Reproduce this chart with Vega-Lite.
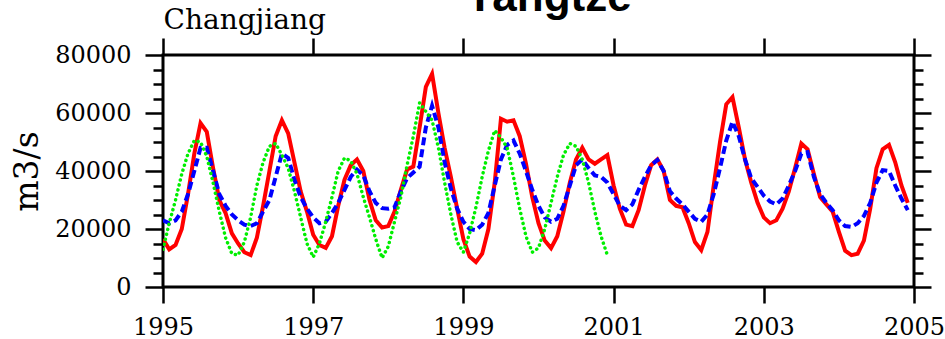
{
  "$schema": "https://vega.github.io/schema/vega-lite/v6.json",
  "width": 751,
  "height": 232,
  "autosize": {"type": "none"},
  "padding": {"left": 163, "top": 55, "right": 31, "bottom": 52},
  "background": "white",
  "title": {"text": "Yangtze", "font": "Liberation Sans", "fontWeight": "bold", "fontSize": 44, "color": "black", "anchor": "middle", "baseline": "alphabetic", "offset": 0, "dy": 48, "dx": 10},
  "config": {
    "view": {"stroke": "black", "strokeWidth": 3},
    "axis": {"domain": false, "grid": false, "tickColor": "black", "tickWidth": 2.5, "labelColor": "black", "labelFont": "DejaVu Serif", "labelFontSize": 24, "titleColor": "black", "titleFont": "DejaVu Serif", "titleFontWeight": "normal"}
  },
  "datasets": {
    "red": [
      {"t":1995.000,"v":16500},{"t":1995.083,"v":13000},{"t":1995.167,"v":14500},{"t":1995.250,"v":20000},{"t":1995.333,"v":32000},{"t":1995.417,"v":46000},{"t":1995.500,"v":56500},{"t":1995.583,"v":53500},{"t":1995.667,"v":41000},{"t":1995.750,"v":30000},{"t":1995.833,"v":25500},{"t":1995.917,"v":18500},
      {"t":1996.000,"v":15000},{"t":1996.083,"v":12000},{"t":1996.167,"v":11000},{"t":1996.250,"v":17000},{"t":1996.333,"v":28000},{"t":1996.417,"v":40000},{"t":1996.500,"v":52000},{"t":1996.583,"v":57500},{"t":1996.667,"v":53000},{"t":1996.750,"v":43000},{"t":1996.833,"v":33000},{"t":1996.917,"v":26000},
      {"t":1997.000,"v":18000},{"t":1997.083,"v":14500},{"t":1997.167,"v":13500},{"t":1997.250,"v":17500},{"t":1997.333,"v":28000},{"t":1997.417,"v":37000},{"t":1997.500,"v":42000},{"t":1997.583,"v":44000},{"t":1997.667,"v":40000},{"t":1997.750,"v":30000},{"t":1997.833,"v":23000},{"t":1997.917,"v":20500},
      {"t":1998.000,"v":21000},{"t":1998.083,"v":26000},{"t":1998.167,"v":33500},{"t":1998.250,"v":40500},{"t":1998.333,"v":41500},{"t":1998.417,"v":55000},{"t":1998.500,"v":69000},{"t":1998.583,"v":73500},{"t":1998.667,"v":60000},{"t":1998.750,"v":48000},{"t":1998.833,"v":38000},{"t":1998.917,"v":27000},
      {"t":1999.000,"v":16500},{"t":1999.083,"v":10500},{"t":1999.167,"v":8600},{"t":1999.250,"v":11500},{"t":1999.333,"v":20000},{"t":1999.417,"v":36000},{"t":1999.500,"v":58000},{"t":1999.583,"v":57000},{"t":1999.667,"v":57500},{"t":1999.750,"v":52000},{"t":1999.833,"v":42500},{"t":1999.917,"v":31000},
      {"t":2000.000,"v":22000},{"t":2000.083,"v":16000},{"t":2000.167,"v":13400},{"t":2000.250,"v":17500},{"t":2000.333,"v":26000},{"t":2000.417,"v":36000},{"t":2000.500,"v":44000},{"t":2000.583,"v":48000},{"t":2000.667,"v":44000},{"t":2000.750,"v":42500},{"t":2000.833,"v":44000},{"t":2000.917,"v":45500},
      {"t":2001.000,"v":35000},{"t":2001.083,"v":27000},{"t":2001.167,"v":21500},{"t":2001.250,"v":21000},{"t":2001.333,"v":26500},{"t":2001.417,"v":35000},{"t":2001.500,"v":42000},{"t":2001.583,"v":44000},{"t":2001.667,"v":40000},{"t":2001.750,"v":30000},{"t":2001.833,"v":28000},{"t":2001.917,"v":27500},
      {"t":2002.000,"v":22000},{"t":2002.083,"v":15500},{"t":2002.167,"v":12750},{"t":2002.250,"v":19000},{"t":2002.333,"v":35000},{"t":2002.417,"v":50000},{"t":2002.500,"v":63000},{"t":2002.583,"v":65500},{"t":2002.667,"v":55000},{"t":2002.750,"v":44000},{"t":2002.833,"v":36000},{"t":2002.917,"v":29000},
      {"t":2003.000,"v":24000},{"t":2003.083,"v":22000},{"t":2003.167,"v":23000},{"t":2003.250,"v":27000},{"t":2003.333,"v":33000},{"t":2003.417,"v":41000},{"t":2003.500,"v":49500},{"t":2003.583,"v":47500},{"t":2003.667,"v":39000},{"t":2003.750,"v":31000},{"t":2003.833,"v":28500},{"t":2003.917,"v":26000},
      {"t":2004.000,"v":19000},{"t":2004.083,"v":12500},{"t":2004.167,"v":11000},{"t":2004.250,"v":11500},{"t":2004.333,"v":16000},{"t":2004.417,"v":27000},{"t":2004.500,"v":41000},{"t":2004.583,"v":47500},{"t":2004.667,"v":49000},{"t":2004.750,"v":43000},{"t":2004.833,"v":35000},{"t":2004.917,"v":29000}
    ],
    "blue": [
      {"t":1995.000,"v":23000},{"t":1995.083,"v":22000},{"t":1995.167,"v":23000},{"t":1995.250,"v":26000},{"t":1995.333,"v":32000},{"t":1995.417,"v":40000},{"t":1995.500,"v":48000},{"t":1995.583,"v":48000},{"t":1995.667,"v":40000},{"t":1995.750,"v":32000},{"t":1995.833,"v":28000},{"t":1995.917,"v":25000},
      {"t":1996.000,"v":23000},{"t":1996.083,"v":21500},{"t":1996.167,"v":21000},{"t":1996.250,"v":22000},{"t":1996.333,"v":26000},{"t":1996.417,"v":30000},{"t":1996.500,"v":38000},{"t":1996.583,"v":46000},{"t":1996.667,"v":44500},{"t":1996.750,"v":37000},{"t":1996.833,"v":31000},{"t":1996.917,"v":27000},
      {"t":1997.000,"v":24000},{"t":1997.083,"v":22000},{"t":1997.167,"v":22500},{"t":1997.250,"v":25500},{"t":1997.333,"v":29000},{"t":1997.417,"v":33500},{"t":1997.500,"v":38000},{"t":1997.583,"v":40500},{"t":1997.667,"v":38500},{"t":1997.750,"v":33000},{"t":1997.833,"v":29000},{"t":1997.917,"v":27200},
      {"t":1998.000,"v":27000},{"t":1998.083,"v":27500},{"t":1998.167,"v":33000},{"t":1998.250,"v":37500},{"t":1998.333,"v":39500},{"t":1998.417,"v":41500},{"t":1998.500,"v":55000},{"t":1998.583,"v":62500},{"t":1998.667,"v":55000},{"t":1998.750,"v":43000},{"t":1998.833,"v":34000},{"t":1998.917,"v":27000},
      {"t":1999.000,"v":22500},{"t":1999.083,"v":20000},{"t":1999.167,"v":19600},{"t":1999.250,"v":21500},{"t":1999.333,"v":25500},{"t":1999.417,"v":35000},{"t":1999.500,"v":44000},{"t":1999.583,"v":49000},{"t":1999.667,"v":50500},{"t":1999.750,"v":46000},{"t":1999.833,"v":40000},{"t":1999.917,"v":33500},
      {"t":2000.000,"v":28000},{"t":2000.083,"v":24000},{"t":2000.167,"v":22500},{"t":2000.250,"v":23500},{"t":2000.333,"v":28000},{"t":2000.417,"v":35000},{"t":2000.500,"v":42000},{"t":2000.583,"v":44000},{"t":2000.667,"v":41000},{"t":2000.750,"v":38500},{"t":2000.833,"v":38000},{"t":2000.917,"v":36000},
      {"t":2001.000,"v":32000},{"t":2001.083,"v":28000},{"t":2001.167,"v":26500},{"t":2001.250,"v":28500},{"t":2001.333,"v":33500},{"t":2001.417,"v":38000},{"t":2001.500,"v":42000},{"t":2001.583,"v":43800},{"t":2001.667,"v":40000},{"t":2001.750,"v":33000},{"t":2001.833,"v":30500},{"t":2001.917,"v":28500},
      {"t":2002.000,"v":26000},{"t":2002.083,"v":23500},{"t":2002.167,"v":22500},{"t":2002.250,"v":25000},{"t":2002.333,"v":32000},{"t":2002.417,"v":41000},{"t":2002.500,"v":50500},{"t":2002.583,"v":57000},{"t":2002.667,"v":52000},{"t":2002.750,"v":44000},{"t":2002.833,"v":37500},{"t":2002.917,"v":34500},
      {"t":2003.000,"v":31500},{"t":2003.083,"v":29500},{"t":2003.167,"v":28500},{"t":2003.250,"v":30500},{"t":2003.333,"v":35000},{"t":2003.417,"v":40000},{"t":2003.500,"v":46000},{"t":2003.583,"v":46500},{"t":2003.667,"v":38000},{"t":2003.750,"v":32000},{"t":2003.833,"v":29000},{"t":2003.917,"v":26500},
      {"t":2004.000,"v":23000},{"t":2004.083,"v":21000},{"t":2004.167,"v":20700},{"t":2004.250,"v":22000},{"t":2004.333,"v":24500},{"t":2004.417,"v":29000},{"t":2004.500,"v":36000},{"t":2004.583,"v":40300},{"t":2004.667,"v":40000},{"t":2004.750,"v":35000},{"t":2004.833,"v":30500},{"t":2004.917,"v":26500}
    ],
    "green": [
      {"t":1995.000,"v":13000},{"t":1995.083,"v":22000},{"t":1995.167,"v":30000},{"t":1995.250,"v":39000},{"t":1995.333,"v":46000},{"t":1995.417,"v":50500},{"t":1995.500,"v":50000},{"t":1995.583,"v":45000},{"t":1995.667,"v":36000},{"t":1995.750,"v":26000},{"t":1995.833,"v":17000},{"t":1995.917,"v":11500},
      {"t":1996.000,"v":11000},{"t":1996.083,"v":15500},{"t":1996.167,"v":24000},{"t":1996.250,"v":35000},{"t":1996.333,"v":43000},{"t":1996.417,"v":48500},{"t":1996.500,"v":49500},{"t":1996.583,"v":45500},{"t":1996.667,"v":41000},{"t":1996.750,"v":33000},{"t":1996.833,"v":24000},{"t":1996.917,"v":15000},
      {"t":1997.000,"v":10300},{"t":1997.083,"v":15000},{"t":1997.167,"v":22500},{"t":1997.250,"v":31000},{"t":1997.333,"v":40000},{"t":1997.417,"v":44500},{"t":1997.500,"v":43500},{"t":1997.583,"v":39000},{"t":1997.667,"v":31000},{"t":1997.750,"v":24000},{"t":1997.833,"v":16500},{"t":1997.917,"v":10000},
      {"t":1998.000,"v":14000},{"t":1998.083,"v":22500},{"t":1998.167,"v":31000},{"t":1998.250,"v":42000},{"t":1998.333,"v":52000},{"t":1998.417,"v":63500},{"t":1998.500,"v":60500},{"t":1998.583,"v":57500},{"t":1998.667,"v":48000},{"t":1998.750,"v":36000},{"t":1998.833,"v":25000},{"t":1998.917,"v":15500},
      {"t":1999.000,"v":12000},{"t":1999.083,"v":18500},{"t":1999.167,"v":27500},{"t":1999.250,"v":38000},{"t":1999.333,"v":47000},{"t":1999.417,"v":54000},{"t":1999.500,"v":51500},{"t":1999.583,"v":48000},{"t":1999.667,"v":38000},{"t":1999.750,"v":27000},{"t":1999.833,"v":17500},{"t":1999.917,"v":12000},
      {"t":2000.000,"v":13500},{"t":2000.083,"v":20000},{"t":2000.167,"v":29000},{"t":2000.250,"v":38000},{"t":2000.333,"v":45500},{"t":2000.417,"v":49500},{"t":2000.500,"v":48500},{"t":2000.583,"v":44000},{"t":2000.667,"v":36000},{"t":2000.750,"v":26000},{"t":2000.833,"v":17500},{"t":2000.917,"v":11000}
    ]
  },
  "layer": [
    {
      "data": {"name": "red"},
      "mark": {"type": "line", "color": "#ff0000", "strokeWidth": 4, "clip": true},
      "encoding": {
        "x": {"field": "t", "type": "quantitative", "scale": {"domain": [1995, 2005], "nice": false, "zero": false},
          "axis": {"orient": "bottom", "values": [1995, 1997, 1999, 2001, 2003, 2005], "format": "d", "tickSize": 16, "labelPadding": 12, "labelFlush": false, "title": null}},
        "y": {"field": "v", "type": "quantitative", "scale": {"domain": [0, 80000], "nice": false},
          "axis": {"orient": "left", "values": [0,5000,10000,15000,20000,25000,30000,35000,40000,45000,50000,55000,60000,65000,70000,75000,80000], "format": "d",
            "labelExpr": "datum.value % 20000 === 0 ? datum.label : ''",
            "tickSize": {"condition": {"test": "datum.value % 20000 === 0", "value": 18}, "value": 10},
            "labelPadding": 14, "labelBaseline": "middle",
            "title": "m3/s", "titleFontSize": 33, "titlePadding": 10}}
      }
    },
    {
      "data": {"name": "blue"},
      "mark": {"type": "line", "color": "#0000ff", "strokeWidth": 4, "strokeDash": [8, 4], "clip": true},
      "encoding": {
        "x": {"field": "t", "type": "quantitative",
          "axis": {"orient": "top", "values": [1995, 1997, 1999, 2001, 2003, 2005], "labels": false, "tickSize": 17,
            "title": "Changjiang", "titleAnchor": "start", "titleAlign": "left", "titleFontSize": 28, "titlePadding": 2}},
        "y": {"field": "v", "type": "quantitative",
          "axis": {"orient": "right", "values": [0,5000,10000,15000,20000,25000,30000,35000,40000,45000,50000,55000,60000,65000,70000,75000,80000], "labels": false,
            "tickSize": {"condition": {"test": "datum.value % 20000 === 0", "value": 17}, "value": 9},
            "title": null}}
      }
    },
    {
      "data": {"name": "green"},
      "mark": {"type": "line", "color": "#00ee00", "strokeWidth": 3.5, "strokeDash": [0.1, 5], "strokeCap": "round", "clip": true},
      "encoding": {
        "x": {"field": "t", "type": "quantitative", "axis": null},
        "y": {"field": "v", "type": "quantitative", "axis": null}
      }
    }
  ],
  "resolve": {"axis": {"x": "independent", "y": "independent"}}
}
